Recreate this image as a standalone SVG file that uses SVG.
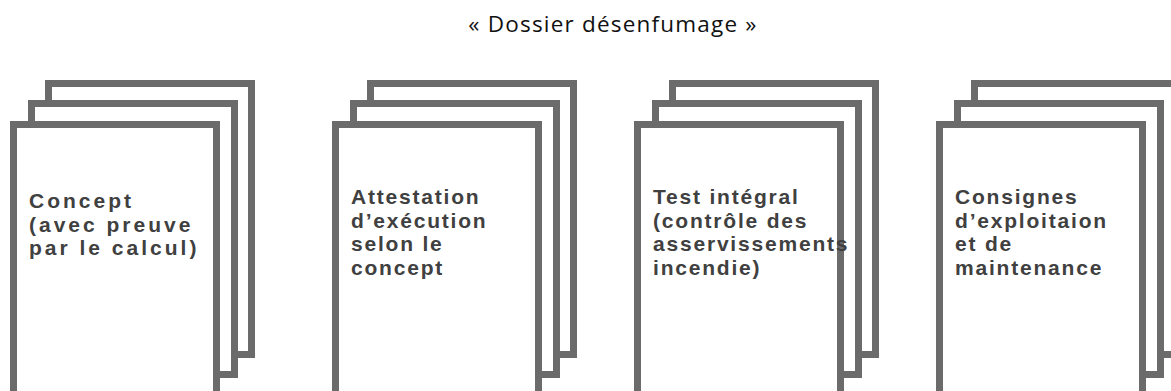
<svg xmlns="http://www.w3.org/2000/svg" width="1171" height="391" viewBox="0 0 1171 391">
  <style>
    .page { fill: #ffffff; stroke: #6b6b6b; stroke-width: 7; }
    .lbl { font-family: "Liberation Sans", Arial, sans-serif; font-weight: 700; font-size: 21px; fill: #404040; letter-spacing: 1.8px; }
    .wide { letter-spacing: 3px; }
    .title { font-family: "Open Sans", "Liberation Sans", sans-serif; font-size: 22.5px; fill: #111111; letter-spacing: 1.2px; }
  </style>
  <defs>
    <g id="stack">
      <rect class="page" x="38.5" y="83.5" width="203" height="271"/>
      <rect class="page" x="21.5" y="103.5" width="203" height="271"/>
      <rect class="page" x="3.5" y="124.5" width="203" height="271"/>
    </g>
  </defs>
  <rect width="1171" height="391" fill="#ffffff"/>
  <text class="title" x="613" y="32" text-anchor="middle">« Dossier désenfumage »</text>
  <g id="connectors"/>
  <g id="node-concept" transform="translate(10,0)">
    <use href="#stack"/>
    <text class="lbl wide">
      <tspan x="19" y="208">Concept</tspan>
      <tspan x="19" y="231.5">(avec preuve</tspan>
      <tspan x="19" y="255">par le calcul)</tspan>
    </text>
  </g>
  <g id="node-attestation" transform="translate(332,0)">
    <use href="#stack"/>
    <text class="lbl">
      <tspan x="19" y="204">Attestation</tspan>
      <tspan x="19" y="227.5">d’exécution</tspan>
      <tspan x="19" y="251">selon le</tspan>
      <tspan x="19" y="274.5">concept</tspan>
    </text>
  </g>
  <g id="node-test" transform="translate(634,0)">
    <use href="#stack"/>
    <text class="lbl">
      <tspan x="19" y="204">Test intégral</tspan>
      <tspan x="19" y="227.5">(contrôle des</tspan>
      <tspan x="19" y="251">asservissements</tspan>
      <tspan x="19" y="274.5">incendie)</tspan>
    </text>
  </g>
  <g id="node-consignes" transform="translate(936,0)">
    <use href="#stack"/>
    <text class="lbl">
      <tspan x="19" y="204">Consignes</tspan>
      <tspan x="19" y="227.5">d’exploitaion</tspan>
      <tspan x="19" y="251">et de</tspan>
      <tspan x="19" y="274.5">maintenance</tspan>
    </text>
  </g>
</svg>
